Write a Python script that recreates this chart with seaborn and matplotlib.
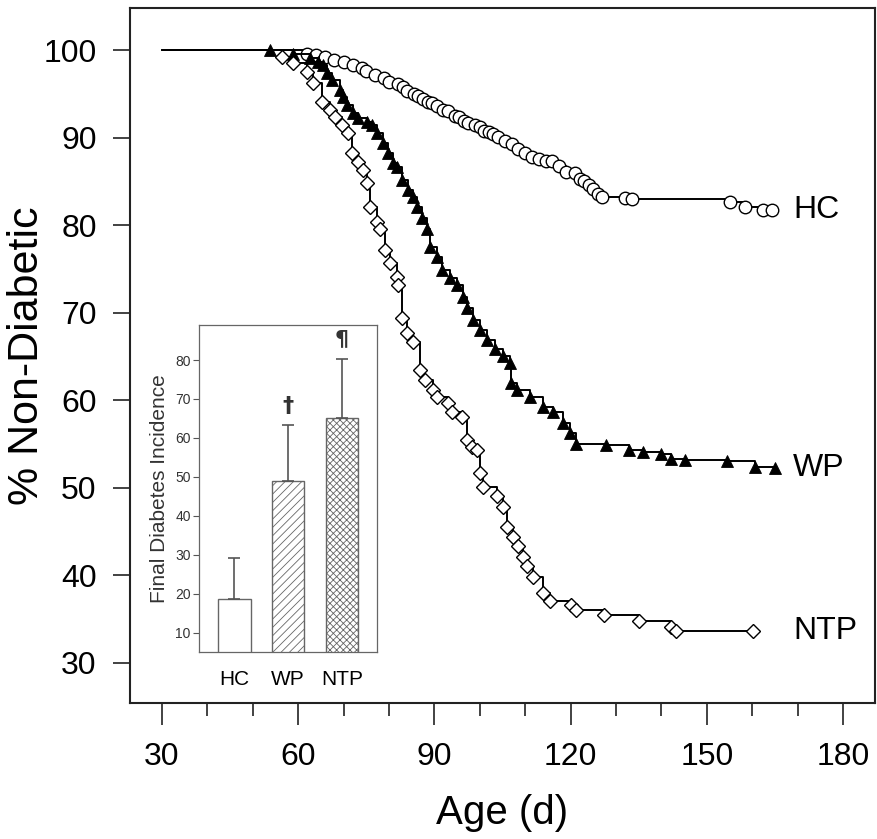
import matplotlib
matplotlib.use("Agg")
import matplotlib.pyplot as plt
import seaborn as sns
import pandas as pd
from matplotlib import font_manager

# ---------------- data ----------------
hc_age = [30, 62, 64, 66, 68, 70, 72, 74, 75, 77, 79, 80, 82, 83, 84, 85.5, 86.5, 87.5,
          88.5, 89.5, 90.5, 92, 93, 94.5, 95.5, 96.5, 97.5, 99, 100, 101, 102, 103, 104,
          105.5, 107, 108.5, 110, 111.5, 113, 114.5, 116, 117.5, 119, 121, 122, 123, 124,
          125, 126, 127, 132, 133.5, 155.1, 158.4, 162.4, 164.4]
hc_pct = [100, 99.6, 99.4, 99.2, 98.9, 98.6, 98.3, 97.9, 97.6, 97.2, 96.8, 96.4, 96.1,
          95.8, 95.3, 95.0, 94.7, 94.4, 94.1, 93.9, 93.6, 93.2, 93.0, 92.5, 92.3, 91.9,
          91.7, 91.4, 91.2, 90.8, 90.6, 90.4, 90.1, 89.6, 89.3, 88.7, 88.2, 87.8, 87.6,
          87.3, 87.3, 86.8, 86.1, 85.9, 85.3, 85.0, 84.6, 84.1, 83.6, 83.2, 83.1, 83.0,
          82.6, 82.1, 81.7, 81.7]

wp_age = [30, 53.8, 58.9, 62.6, 64.4, 65.5, 66.3, 67.4, 69.2, 69.9, 70.7, 72.1, 73.2, 75.2,
          76.3, 77.4, 78.7, 79.8, 80.9, 81.8, 82.9, 84.2, 85.3, 86.2, 87.3, 88.4, 89.0,
          90.6, 91.7, 93.4, 95.0, 96.3, 97.2, 98.5, 100.0, 101.6, 103.3, 105.1, 106.7,
          106.9, 108.2, 111.1, 113.9, 116.1, 118.3, 119.9, 121.2, 127.8, 132.9, 135.9,
          139.9, 142.1, 145.2, 154.4, 160.6, 165.0]
wp_pct = [100, 100, 99.5, 99.1, 98.6, 98.3, 97.4, 96.6, 95.4, 94.6, 93.7, 92.8, 92.2, 91.8,
          91.4, 90.5, 89.4, 88.2, 87.1, 86.6, 85.2, 84.0, 83.2, 82.1, 80.8, 79.5, 77.5,
          76.4, 74.9, 74.0, 73.2, 71.8, 70.5, 69.2, 68.0, 66.9, 65.8, 65.0, 64.3, 62.0,
          61.2, 60.4, 59.2, 58.6, 57.4, 56.3, 55.0, 54.9, 54.3, 54.1, 53.8, 53.3, 53.2,
          53.0, 52.4, 52.2]

ntp_age = [30, 56.4, 58.9, 61.9, 63.3, 65.2, 67.0, 68.1, 69.6, 71.0, 71.9, 73.2, 74.3,
           75.2, 75.8, 77.4, 78.0, 79.1, 80.2, 81.8, 82.0, 82.9, 84.0, 85.3, 86.8, 87.9,
           89.7, 90.6, 93.0, 93.9, 96.1, 97.2, 98.3, 99.4, 100.0, 100.7, 103.8, 105.1,
           106.0, 107.3, 108.4, 109.5, 110.4, 111.7, 113.9, 115.5, 120.1, 121.2, 127.4,
           135.1, 142.1, 143.2, 160.2]
ntp_pct = [100, 99.2, 98.5, 97.5, 96.2, 94.1, 93.2, 92.4, 91.4, 90.5, 88.2, 87.2, 86.3,
           84.8, 82.1, 80.3, 79.5, 77.2, 75.7, 74.1, 73.2, 69.4, 67.7, 66.6, 63.5, 62.3,
           61.2, 60.4, 59.7, 58.6, 58.1, 55.5, 54.7, 54.3, 51.7, 50.1, 49.0, 47.8, 45.5,
           44.4, 43.3, 42.1, 41.0, 39.8, 38.0, 37.1, 36.6, 36.0, 35.4, 34.8, 34.1, 33.6,
           33.6]

group_names = ["HC", "WP", "NTP"]
final_incidence = [18.7, 48.8, 65.2]
incidence_upper = [29.2, 63.2, 80.2]
significance = ["", "\u2020", "\u00b6"]

x_ticks = [30, 60, 90, 120, 150, 180]
y_ticks = [30, 40, 50, 60, 70, 80, 90, 100]
inset_y_ticks = [10, 20, 30, 40, 50, 60, 70, 80]

# ---------------- style ----------------
sns.set_style("ticks")
names = {f.name for f in font_manager.fontManager.ttflist}
narrow = "Liberation Sans Narrow" in names
if narrow:
    plt.rcParams["font.family"] = ["Liberation Sans Narrow", "Liberation Sans", "DejaVu Sans"]
    fs_tick, fs_xlab, fs_grp, fs_itick, fs_ixt = 25, 33, 28, 12, 17
else:
    plt.rcParams["font.family"] = ["Liberation Sans", "DejaVu Sans"]
    fs_tick, fs_xlab, fs_grp, fs_itick, fs_ixt = 23, 29, 23, 10, 15
wide_font = ["Liberation Sans", "DejaVu Sans"]
plt.rcParams["hatch.linewidth"] = 0.6
plt.rcParams["text.color"] = "black"
plt.rcParams["axes.labelcolor"] = "black"

fig = plt.figure(figsize=(8.77, 8.39), dpi=100)
ax = fig.add_axes([130 / 877, 1 - 703 / 839, 745 / 877, 695 / 839])

frames = [
    pd.DataFrame({"age": hc_age, "pct": hc_pct}),
    pd.DataFrame({"age": wp_age, "pct": wp_pct}),
    pd.DataFrame({"age": ntp_age, "pct": ntp_pct}),
]
marker_styles = [
    dict(marker="o", markersize=9, markerfacecolor="white", markeredgecolor="black", markeredgewidth=1.0),
    dict(marker="^", markersize=8.5, markerfacecolor="black", markeredgecolor="black", markeredgewidth=0.6),
    dict(marker="D", markersize=7.5, markerfacecolor="white", markeredgecolor="black", markeredgewidth=1.0),
]
for df, ms in zip(frames, marker_styles):
    sns.lineplot(data=df, x="age", y="pct", ax=ax, estimator=None, sort=False,
                 drawstyle="steps-post", color="black", linewidth=1.4,
                 markevery=slice(1, None), **ms)

label_y = [hc_pct[-1], wp_pct[-1], ntp_pct[-1]]
for name, yv in zip(group_names, label_y):
    ax.text(169, yv, name, fontsize=fs_grp, ha="left", va="center", color="black")

ax.set_xlim(23, 187)
ax.set_ylim(25.4, 104.8)
ax.set_xticks(x_ticks)
ax.set_xticks(list(range(40, 181, 10)), minor=True)
ax.set_yticks(y_ticks)
ax.tick_params(axis="x", which="major", length=16, width=1.2, pad=12, labelsize=fs_tick,
               direction="out", color="#222222", labelcolor="black")
ax.tick_params(axis="x", which="minor", length=9, width=1.2, direction="out", color="#222222")
ax.tick_params(axis="y", which="major", length=12, width=1.2, pad=12, labelsize=fs_tick,
               direction="out", color="#222222", labelcolor="black")
ax.tick_params(axis="y", which="minor", left=False)
for s in ax.spines.values():
    s.set_visible(True)
    s.set_linewidth(1.5)
    s.set_color("#222222")
ax.set_xlabel("Age (d)", fontsize=fs_xlab, labelpad=16, color="black")
ax.set_ylabel("% Non-Diabetic", fontsize=31, family=wide_font, color="black")
ax.yaxis.set_label_coords(-0.112, 0.5)

# ---------------- inset ----------------
ins = fig.add_axes([199 / 877, 1 - 652 / 839, 178 / 877, 327 / 839])
bar_df = pd.DataFrame({"group": group_names, "incidence": final_incidence})
sns.barplot(data=bar_df, x="group", y="incidence", ax=ins, color="white", width=0.6,
            edgecolor="#555555", linewidth=1.0, errorbar=None)
for patch, h in zip(ins.patches, ["", "////", "xxxxx"]):
    patch.set_facecolor("white")
    patch.set_edgecolor("#666666")
    patch.set_hatch(h)
upper = [u - v for u, v in zip(incidence_upper, final_incidence)]
ins.errorbar(range(len(group_names)), final_incidence,
             yerr=[[0] * len(upper), upper], fmt="none", ecolor="#555555",
             elinewidth=1.2, capsize=4, capthick=1.2, zorder=1)
for i, (u, sym) in enumerate(zip(incidence_upper, significance)):
    if sym:
        ins.text(i, u + 2.5, sym, ha="center", va="bottom", fontsize=16, color="#333333",
                 family=["DejaVu Sans"], fontweight="bold")
ins.set_xlim(-0.66, 2.65)
ins.set_ylim(5, 89)
ins.set_yticks(inset_y_ticks)
ins.set_xlabel("")
ins.set_ylabel("Final Diabetes Incidence", fontsize=15, family=wide_font, color="#333333", labelpad=4)
ins.tick_params(axis="y", length=4, width=0.8, color="#555555", labelsize=fs_itick,
                labelcolor="#333333", pad=2)
ins.tick_params(axis="x", length=0, labelsize=fs_ixt, pad=13, labelcolor="black")
for s in ins.spines.values():
    s.set_visible(True)
    s.set_linewidth(0.9)
    s.set_color("#666666")

fig.savefig("out.png", dpi=100)
